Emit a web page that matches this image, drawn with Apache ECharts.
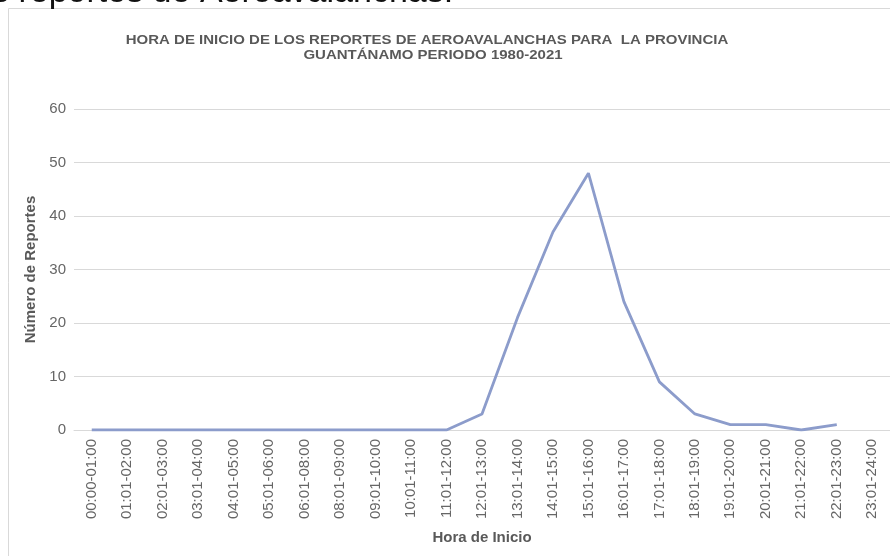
<!DOCTYPE html>
<html><head><meta charset="utf-8">
<script src="https://cdn.jsdelivr.net/npm/echarts@6/dist/echarts.min.js"></script>
<style>html,body{margin:0;padding:0;background:#fff}#c{width:890px;height:556px}</style>
</head><body><div id="c"></div>
<script>
var categories = ["00:00-01:00","01:01-02:00","02:01-03:00","03:01-04:00","04:01-05:00","05:01-06:00","06:01-08:00","08:01-09:00","09:01-10:00","10:01-11:00","11:01-12:00","12:01-13:00","13:01-14:00","14:01-15:00","15:01-16:00","16:01-17:00","17:01-18:00","18:01-19:00","19:01-20:00","20:01-21:00","21:01-22:00","22:01-23:00","23:01-24:00"];
var reportes = [0,0,0,0,0,0,0,0,0,0,0,3,21,37,48,24,9,3,1,1,0,1,null];
var yTicks = {min:0, max:60, interval:10};
var titleLine1 = "HORA DE INICIO DE LOS REPORTES DE AEROAVALANCHAS PARA  LA PROVINCIA";
var titleLine2 = "GUANTÁNAMO PERIODO 1980-2021";
var docText = "s reportes de Aeroavalanchas.";

var FONT = '"Liberation Sans", Arial, sans-serif';
var chart = echarts.init(document.getElementById('c'), null, {renderer:'canvas'});
chart.setOption({
  animation:false,
  backgroundColor:'#fff',
  graphic:[
    {type:'rect', shape:{x:8.5,y:8.5,width:900,height:600}, style:{fill:'none',stroke:'#d9d9d9',lineWidth:1}, z:-1},
    {type:'text', x:-8, y:10, style:{text:docText, font:'34px ' + FONT, fill:'#111', verticalAlign:'bottom'}},
    {type:'text', x:427, y:40, scaleY:0.85, style:{text:titleLine1, font:'bold 15px ' + FONT, fill:'#595959', align:'center', verticalAlign:'middle'}},
    {type:'text', x:433, y:55, scaleY:0.85, style:{text:titleLine2, font:'bold 15px ' + FONT, fill:'#595959', align:'center', verticalAlign:'middle'}}
  ],
  grid:{left:74, right:0, top:109, bottom:126},
  xAxis:{
    type:'category', data:categories, boundaryGap:true,
    axisLine:{show:true, lineStyle:{color:'#d9d9d9', width:1}},
    axisTick:{show:false},
    axisLabel:{rotate:90, interval:0, margin:9, fontSize:15, color:'#666', fontFamily:FONT},
    name:'Hora de Inicio', nameLocation:'middle', nameGap:100,
    nameTextStyle:{fontSize:15, fontWeight:'bold', color:'#595959', fontFamily:FONT}
  },
  yAxis:{
    type:'value', min:yTicks.min, max:yTicks.max, interval:yTicks.interval,
    axisLine:{show:false}, axisTick:{show:false},
    splitLine:{lineStyle:{color:'#d9d9d9', width:1}},
    axisLabel:{margin:8, fontSize:15, color:'#666', fontFamily:FONT},
    name:'Número de Reportes', nameLocation:'middle', nameGap:31,
    nameTextStyle:{fontSize:15, fontWeight:'bold', color:'#595959', fontFamily:FONT}
  },
  series:[{
    type:'line', data:reportes, showSymbol:false, symbol:'none', connectNulls:false,
    lineStyle:{color:'#8C9CCB', width:2.8}, itemStyle:{color:'#8C9CCB'}
  }]
});
</script></body></html>
